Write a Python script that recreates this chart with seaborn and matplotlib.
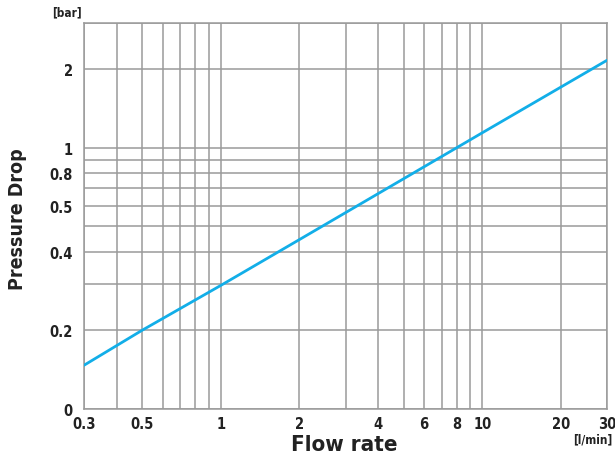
import matplotlib
matplotlib.use("Agg")
import matplotlib.pyplot as plt
import seaborn as sns
from matplotlib.ticker import FixedLocator, FixedFormatter, NullFormatter, NullLocator

# data
flow = [0.3, 0.5, 1, 2, 5, 10, 30]
pressure = [0.147, 0.2, 0.297, 0.445, 0.76, 1.14, 2.16]

# axis ticks
x_grid = [0.3, 0.4, 0.5, 0.6, 0.7, 0.8, 0.9, 1, 2, 3, 4, 5, 6, 7, 8, 9, 10, 20, 30]
x_ticks = [0.3, 0.5, 1, 2, 4, 6, 8, 10, 20, 30]
x_labels = ["0.3", "0.5", "1", "2", "4", "6", "8", "10", "20", "30"]
y_grid = [0.1, 0.2, 0.3, 0.4, 0.5, 0.6, 0.7, 0.8, 0.9, 1, 2, 3]
y_ticks = [0.1, 0.2, 0.4, 0.6, 0.8, 1, 2]
y_labels = ["0", "0.2", "0.4", "0.5", "0.8", "1", "2"]

sns.set_style("white")
plt.rcParams["font.family"] = ["DejaVu Sans"]
plt.rcParams["font.stretch"] = "condensed"

fig = plt.figure(figsize=(6.15, 4.56), dpi=100)
ax = fig.add_axes([0.1366, 0.1009, 0.8504, 0.8465])

grid_col = "#9a9a9a"
for v in x_grid:
    ax.axvline(v, color=grid_col, lw=1.1, zorder=1)
for v in y_grid:
    ax.axhline(v, color=grid_col, lw=1.1, zorder=1)

sns.lineplot(x=flow, y=pressure, ax=ax, color="#12aee8", lw=2, zorder=3)

ax.set_xscale("log")
ax.set_yscale("log")
ax.set_xlim(0.3, 30)
ax.set_ylim(0.1, 3)

ax.xaxis.set_major_locator(FixedLocator(x_ticks))
ax.xaxis.set_major_formatter(FixedFormatter(x_labels))
ax.xaxis.set_minor_locator(FixedLocator(x_grid))
ax.xaxis.set_minor_formatter(NullFormatter())
ax.yaxis.set_major_locator(FixedLocator(y_ticks))
ax.yaxis.set_major_formatter(FixedFormatter(y_labels))
ax.yaxis.set_minor_locator(NullLocator())
ax.tick_params(axis="y", length=0, labelsize=10.5, colors="#222222", pad=8)
ax.tick_params(axis="x", which="both", length=3, width=1.1, color=grid_col,
               labelsize=10.5, labelcolor="#222222", pad=2)
for lab in ax.get_xticklabels() + ax.get_yticklabels():
    lab.set_fontweight("bold")

for s in ax.spines.values():
    s.set_color(grid_col)
    s.set_linewidth(1.1)

fig.text(0.56, 0.002, "Flow rate", fontsize=16, fontweight="bold", ha="center", va="bottom", color="#222222")
fig.text(0.028, 0.52, "Pressure Drop", fontsize=14, fontweight="bold", rotation=90, ha="center", va="center", color="#222222")
fig.text(0.085, 0.957, "[bar]", fontsize=8.5, fontweight="bold", ha="left", va="bottom", color="#222222")
fig.text(0.995, 0.022, "[l/min]", fontsize=8.5, fontweight="bold", ha="right", va="bottom", color="#222222")

fig.savefig("out.png", dpi=100)
